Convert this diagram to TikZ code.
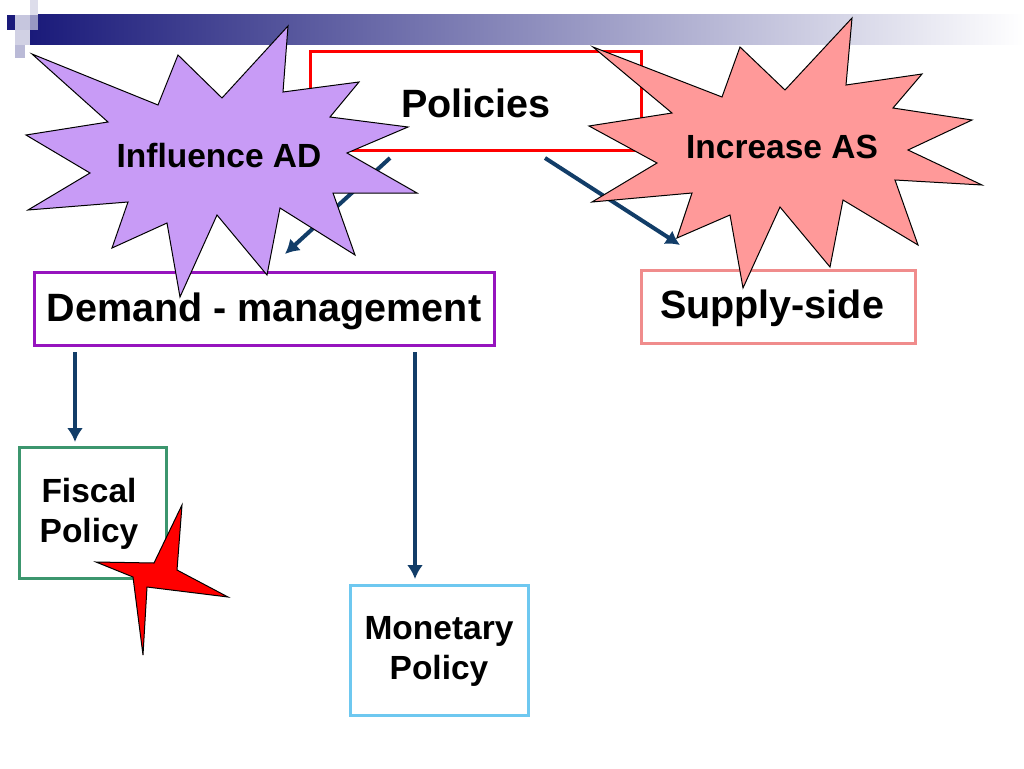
\documentclass[tikz,border=0pt]{standalone}
\usepackage{fontspec}
\setmainfont{Liberation Sans}
\usetikzlibrary{arrows.meta}
\begin{document}
\begin{tikzpicture}[x=1pt,y=-1pt,
  box/.style={draw,line width=3pt,inner sep=0},
  txt/.style={font=\bfseries\fontsize{39.5}{44}\selectfont,align=center},
  small/.style={font=\bfseries\fontsize{33.5}{40}\selectfont,align=center},
  arr/.style={draw=arrblue,line width=4pt,-{Latex[length=14pt,width=16pt]}},
  star/.style={draw=black,line width=1pt}]
\definecolor{arrblue}{HTML}{123D68}
\definecolor{navy}{HTML}{1A1A7A}
\definecolor{purp}{HTML}{C89BF6}
\definecolor{pinkf}{HTML}{FF9999}
\useasboundingbox (0,0) rectangle (1024,768);
% header
\shade[left color=navy,right color=white] (30,15) rectangle (1024,45);
\fill[navy] (7,15) rectangle (15,30);
\fill[navy!25] (15,15) rectangle (30,30);
\fill[navy!45] (30,15) rectangle (38,30);
\fill[navy!15] (30,0) rectangle (38,15);
\fill[navy!20] (15,30) rectangle (30,45);
\fill[navy!30] (15,45) rectangle (25,58);
% boxes
\draw[box,draw=red] (310,52) rectangle (641,150);
\node[txt] (pol) at (476,103) {Policies};
\draw[box,draw={rgb,255:red,150;green,20;blue,190}] (34,272) rectangle (494,345);
\node[txt] (dem) at (264,311) {Demand - management};
\draw[box,draw={rgb,255:red,240;green,140;blue,140}] (641,270) rectangle (915,343);
\node[txt] (sup) at (772,308) {Supply-side};
\draw[box,draw={rgb,255:red,60;green,150;blue,110}] (19,447) rectangle (166,578);
\node[small] (fis) at (89,514) {Fiscal\\Policy};
\draw[box,draw={rgb,255:red,110;green,200;blue,240}] (350,585) rectangle (528,715);
\node[small] (mon) at (439,651) {Monetary\\Policy};
% connectors
\coordinate (p1) at (390,158); \coordinate (d1) at (285,254);
\coordinate (p2) at (545,158); \coordinate (s1) at (680,245);
\coordinate (d2) at (75,352);  \coordinate (f1) at (75,442);
\coordinate (d3) at (415,352); \coordinate (m1) at (415,579);
\draw[arr] (p1) -- (d1);
\draw[arr] (p2) -- (s1);
\draw[arr] (d2) -- (f1);
\draw[arr] (d3) -- (m1);
% stars
\filldraw[star,fill=purp] (32,54)--(158,105)--(178,55)--(222,98)--(288,26)--(283,92)--(359,82)--(330,117)--(408,127)--(347,153)--(417,193)--(333,193)--(355,255)--(280,208)--(267,275)--(217,215)--(180,297)--(167,223)--(112,248)--(128,202)--(28,210)--(90,173)--(26,135)--(108,122)--cycle;
\node[small] (inf) at (219,156) {Influence AD};
\filldraw[star,fill=pinkf] (593,47)--(722,97)--(740,47)--(785,90)--(852,18)--(846,85)--(922,74)--(893,108)--(972,120)--(908,150)--(982,185)--(895,180)--(918,245)--(843,200)--(830,267)--(780,207)--(743,288)--(730,215)--(677,238)--(692,193)--(592,202)--(657,163)--(589,126)--(672,113)--cycle;
\node[small] (inc) at (782,147) {Increase AS};
\filldraw[star,fill=red] (182,505)--(177,570)--(228,597)--(147,587)--(143,655)--(133,577)--(96,562)--(154,563)--cycle;
\end{tikzpicture}
\end{document}
